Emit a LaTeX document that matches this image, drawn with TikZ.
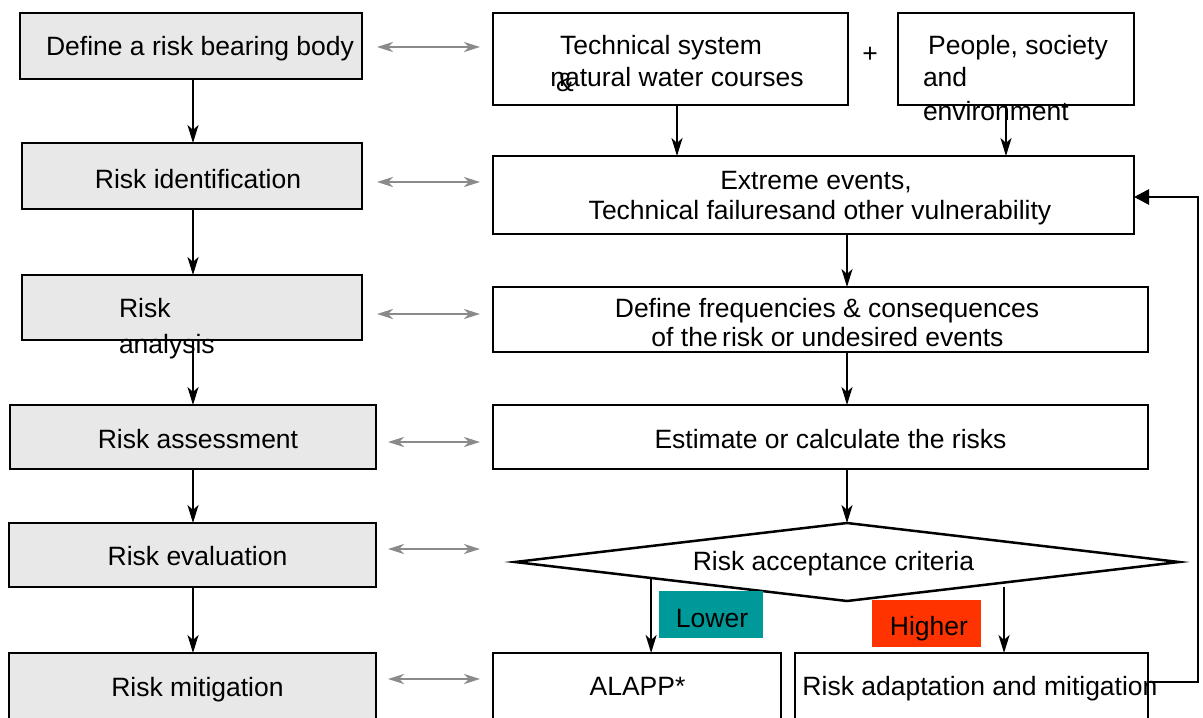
\documentclass[tikz,border=0pt]{standalone}
\usepackage{fontspec}
\setmainfont{Liberation Sans}
\usetikzlibrary{arrows.meta,shapes.geometric,calc}
\definecolor{boxgray}{HTML}{E8E8E8}
\definecolor{linkgray}{HTML}{8A8A8A}
\definecolor{lowteal}{HTML}{009999}
\definecolor{highred}{HTML}{FF3300}
\begin{document}
\begin{tikzpicture}[x=1pt,y=-1pt,
  every node/.style={font=\fontsize{26.5}{30}\selectfont, inner sep=0pt, outer sep=0pt},
  stage/.style={draw, line width=2.5pt, fill=boxgray},
  task/.style={draw, line width=2.5pt, fill=white},
  txt/.style={anchor=base},
  txtl/.style={anchor=base west},
  flow/.style={line width=2.3pt, -{Stealth[length=18pt,width=11pt,inset=5pt]}},
  fback/.style={line width=2.8pt, -{Triangle[length=15pt,width=15pt]}},
  link/.style={line width=2.6pt, draw=linkgray,
    {Stealth[length=16pt,width=10pt,inset=5pt]}-{Stealth[length=16pt,width=10pt,inset=5pt]}},
]
\useasboundingbox (0,0) rectangle (1203,718);

% helper axes for vertical connectors
\coordinate (spine) at (193,0);
\coordinate (axis) at (847,0);
\coordinate (loop) at (1198,0);

% ---- left column: process stages ----
\node[stage, minimum width=342pt, minimum height=66pt] (def) at (191,46) {};
\node[stage, minimum width=340pt, minimum height=66pt] (ide) at (192,176) {};
\node[stage, minimum width=340pt, minimum height=65pt] (ana) at (192,307.5) {};
\node[stage, minimum width=366pt, minimum height=64pt] (ass) at (193,437) {};
\node[stage, minimum width=367pt, minimum height=64pt] (eva) at (192.5,555) {};
\node[stage, minimum width=367pt, minimum height=67pt] (mit) at (192.5,686.5) {};

% ---- right column: activities ----
\node[task, minimum width=355pt, minimum height=92pt] (tech) at (670.5,59) {};
\node[task, minimum width=236pt, minimum height=92pt] (people) at (1016,59) {};
\node[task, minimum width=641pt, minimum height=78pt] (extreme) at (813.5,195) {};
\node[task, minimum width=655pt, minimum height=65pt] (freq) at (820.5,319.5) {};
\node[task, minimum width=655pt, minimum height=64pt] (estimate) at (820.5,437) {};
\node[task, diamond, aspect=1, minimum width=664pt, minimum height=78pt] (crit) at (847,562) {};
\node[task, minimum width=288pt, minimum height=67pt] (alapp) at (637,686.5) {};
\node[task, minimum width=353pt, minimum height=67pt] (adapt) at (971.5,686.5) {};

% ---- left column flow ----
\draw[flow] (def.south -| spine) -- (ide.north -| spine);
\draw[flow] (ide.south -| spine) -- (ana.north -| spine);
\draw[flow] (ana.south -| spine) -- (ass.north -| spine);
\draw[flow] (ass.south -| spine) -- (eva.north -| spine);
\draw[flow] (eva.south -| spine) -- (mit.north -| spine);

% ---- links between stages and activities ----
\draw[link] ([xshift=15pt,yshift=-1pt]def.east) -- ([xshift=-13pt,yshift=-1pt]def.east -| tech.west);
\draw[link] ([xshift=15pt,yshift=-6pt]ide.east) -- ([xshift=-13pt,yshift=-6pt]ide.east -| tech.west);
\draw[link] ([xshift=15pt,yshift=-6.5pt]ana.east) -- ([xshift=-13pt,yshift=-6.5pt]ana.east -| tech.west);
\draw[link] ([xshift=12pt,yshift=-5pt]ass.east) -- ([xshift=-13pt,yshift=-5pt]ass.east -| tech.west);
\draw[link] ([xshift=12pt,yshift=6pt]eva.east) -- ([xshift=-13pt,yshift=6pt]eva.east -| tech.west);
\draw[link] ([xshift=12pt,yshift=7.5pt]mit.east) -- ([xshift=-13pt,yshift=7.5pt]mit.east -| tech.west);

% ---- right column flow ----
\draw[flow] ([xshift=6.5pt]tech.south) -- ([xshift=6.5pt]tech.south |- extreme.north);
\draw[flow] ([xshift=-10pt]people.south) -- ([xshift=-10pt]people.south |- extreme.north);
\draw[flow] (extreme.south -| axis) -- (freq.north -| axis);
\draw[flow] (freq.south -| axis) -- (estimate.north -| axis);
\draw[flow] (estimate.south -| axis) -- (crit.north);
\coordinate (lowtap) at ($(crit.west)!0.41!(crit.south)$);
\coordinate (hightap) at ($(crit.east)!0.527!(crit.south)+(0,4)$);
\draw[flow] (lowtap) -- (lowtap |- alapp.north);
\draw[flow] (hightap) -- (hightap |- adapt.north);

% ---- feedback loop ----
\draw[fback] ([yshift=4.5pt]adapt.east) -- ([yshift=4.5pt]adapt.east -| loop)
  -- ([yshift=-2pt]extreme.east -| loop) -- ([yshift=-2pt]extreme.east);

% ---- outcome tags ----
\node[fill=lowteal, minimum width=104pt, minimum height=47pt] (lower) at (711,614.5) {};
\node[fill=highred, minimum width=109pt, minimum height=47pt] (higher) at (926.5,623.5) {};

% ---- texts ----
\node[txt] (def-t) at (200,55) {Define a risk bearing body};
\node[txt] (ide-t) at (198,188) {Risk identification};
\node[txtl] (ana-t1) at (119,317) {Risk};
\node[txtl] (ana-t2) at (119,353) {analysis};
\node[txt] (ass-t) at (198,448) {Risk assessment};
\node[txt] (eva-t) at (197.5,565) {Risk evaluation};
\node[txt] (mit-t) at (197.5,696) {Risk mitigation};

\node[txt] (tech-t1) at (661,54) {Technical system};
\node[txt] (tech-t2) at (677,86) {natural water courses};
\node[txt] (tech-amp) at (565,91) {\&};
\node[txt] (plus) at (870,62) {+};
\node[txt] (people-t1) at (1018,54) {People, society};
\node[txtl] (people-t2) at (923,86) {and};
\node[txtl] (people-t3) at (923,120) {environment};
\node[txt] (extreme-t1) at (816,189) {Extreme events,};
\node[txt] (extreme-t2) at (820,219) {Technical failuresand other vulnerability};
\node[txt] (freq-t1) at (827,317) {Define frequencies \& consequences};
\node[txt] (freq-t2) at (827.5,346) {of the\,risk or undesired events};
\node[txt] (estimate-t) at (830.5,448) {Estimate or calculate the risks};
\node[txt] (crit-t) at (833.5,570) {Risk acceptance criteria};
\node[txt] (lower-t) at (712,627) {Lower};
\node[txt] (higher-t) at (929,635) {Higher};
\node[txt] (alapp-t) at (637.5,695) {ALAPP*};
\node[txt] (adapt-t) at (980,695) {Risk adaptation and mitigation};
\end{tikzpicture}
\end{document}
